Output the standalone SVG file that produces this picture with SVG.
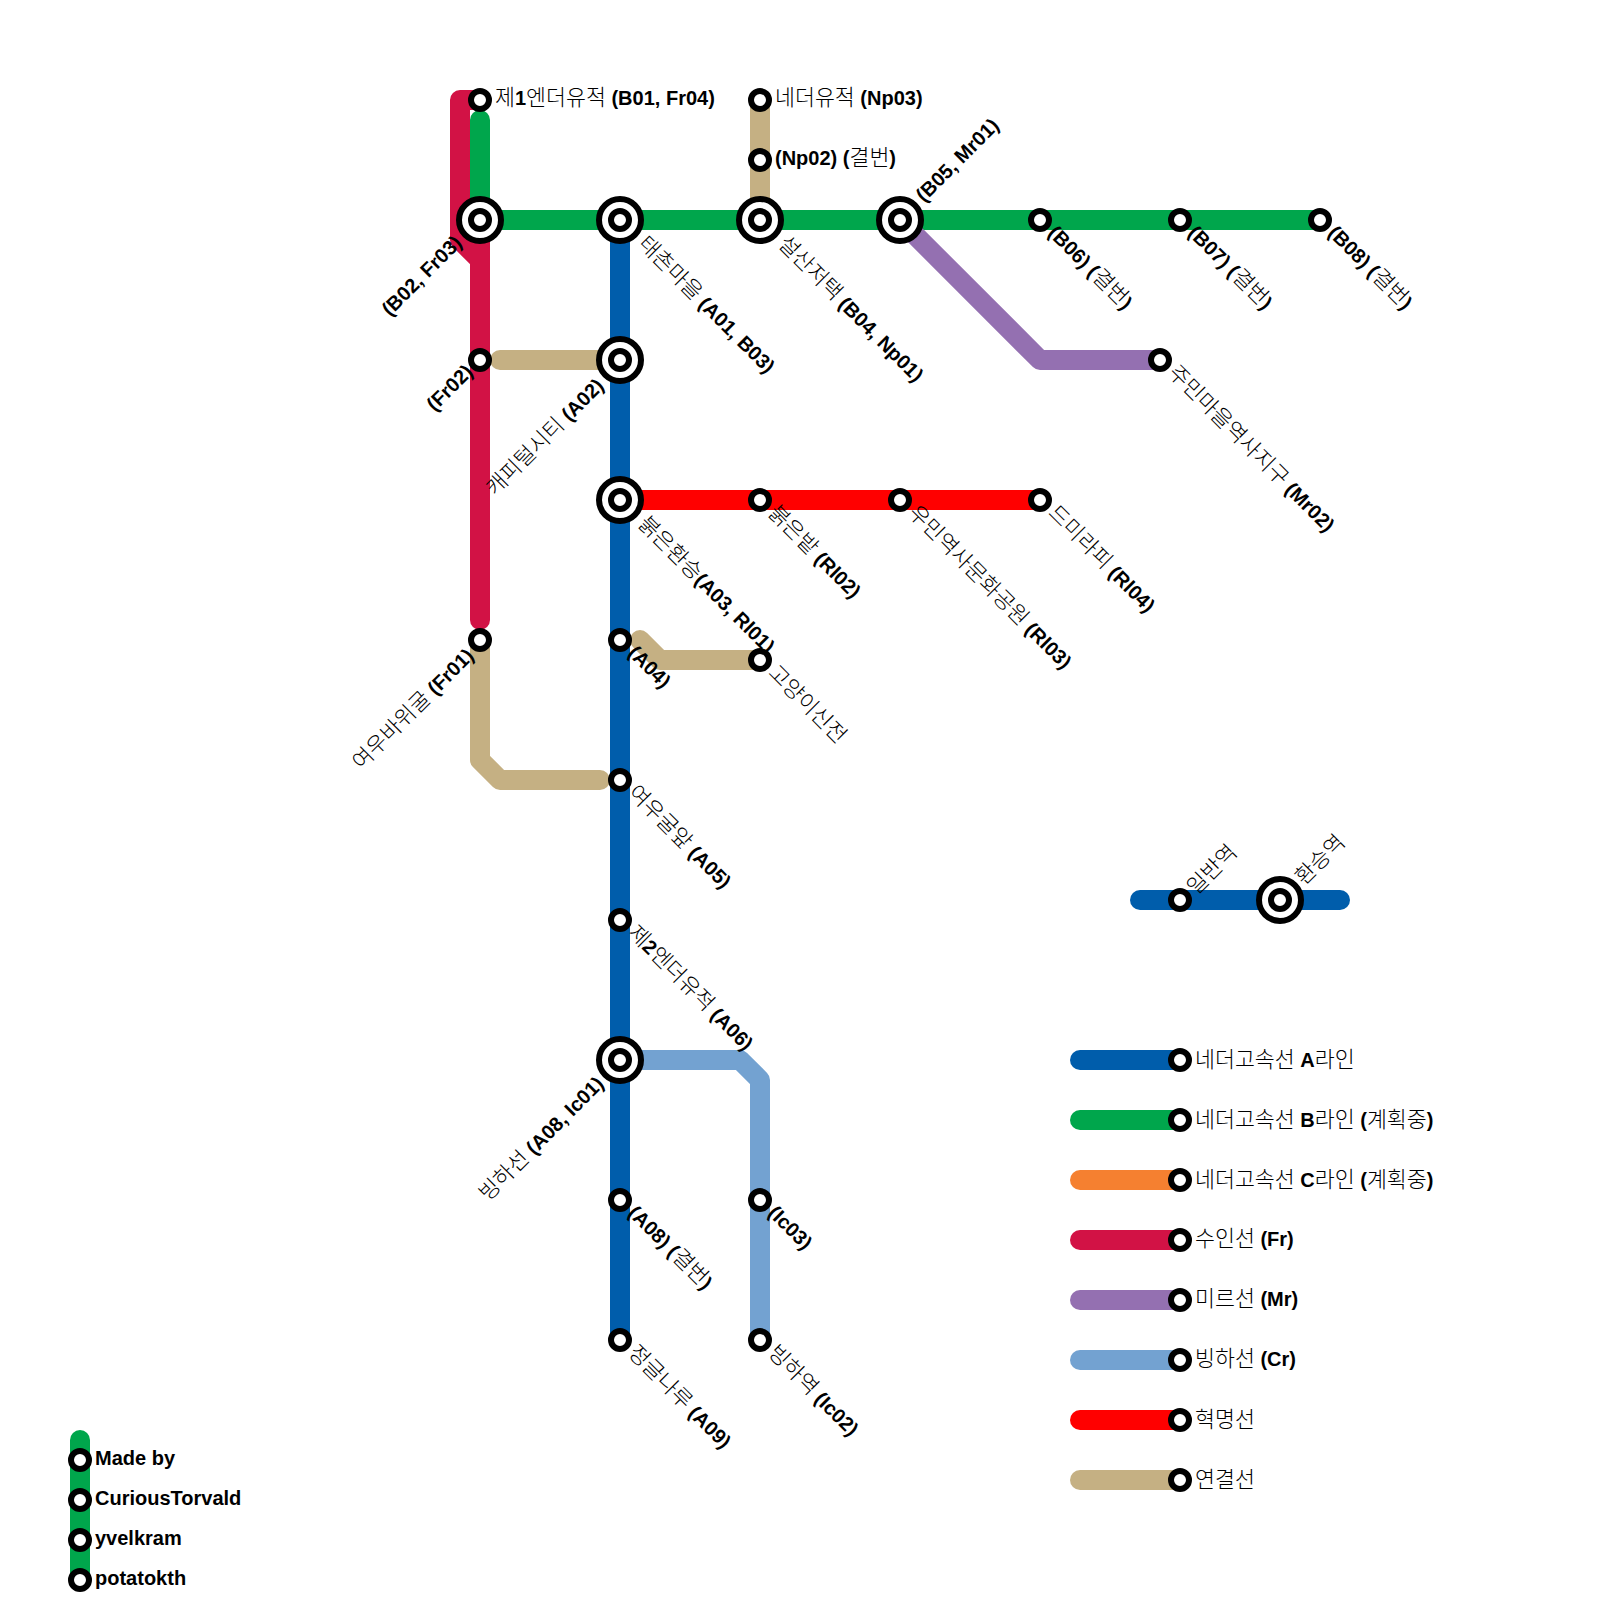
<svg xmlns="http://www.w3.org/2000/svg" width="1600" height="1600" viewBox="0 0 1600 1600">
<style>
.l{fill:none;stroke-width:20;stroke-linecap:round;stroke-linejoin:round}
.a{stroke:#005dab}.b{stroke:#00a64c}.c{stroke:#f58030}.f{stroke:#d21245}.m{stroke:#9470b1}.i{stroke:#73a2d1}.r{stroke:#ff0000}.t{stroke:#c5b083}
.s,.o{fill:#fff;stroke:#000;stroke-width:6}
text{font-family:"Liberation Sans","Noto Sans CJK KR",sans-serif;font-size:20px;font-weight:700;fill:#000}
tspan{font-family:"Noto Sans CJK KR","Liberation Sans",sans-serif;font-weight:300;font-size:21.7px}
.e{text-anchor:end}
</style>
<defs>
<g id="st"><circle class="s" r="9"/></g>
<g id="ic"><circle class="o" r="21"/><circle class="s" r="9"/></g>
</defs>
<g id="connectors">
<path class="l f" d="M480,100H460V240L480,260"/>
<path class="l f" d="M480,220V620"/>
<path class="l b" d="M480,120V220H1320"/>
<path class="l a" d="M620,220V1340"/>
<path class="l t" d="M500,360H620"/>
<path class="l t" d="M760,100V220"/>
<path class="l t" d="M640,640L660,660H760"/>
<path class="l t" d="M480,640V760L500,780H600"/>
<path class="l m" d="M900,220L1040,360H1160"/>
<path class="l r" d="M620,500H1040"/>
<path class="l i" d="M620,1060H740L760,1080V1340"/>
<path class="l a" d="M1140,900H1340"/>
<path class="l a" d="M1080,1060H1180"/>
<path class="l b" d="M1080,1120H1180"/>
<path class="l c" d="M1080,1180H1180"/>
<path class="l f" d="M1080,1240H1180"/>
<path class="l m" d="M1080,1300H1180"/>
<path class="l i" d="M1080,1360H1180"/>
<path class="l r" d="M1080,1420H1180"/>
<path class="l t" d="M1080,1480H1180"/>
<path class="l b" d="M80,1440V1580"/>
</g>
<g id="B01"><use href="#st" x="480" y="100"/><text x="495" y="105"><tspan>제</tspan>1<tspan>엔더유적</tspan> (B01, Fr04)</text></g>
<g id="B02"><use href="#ic" x="480" y="220"/><text class="e" x="463" y="244" transform="rotate(-45 463 244)">(B02, Fr03)</text></g>
<g id="A01"><use href="#ic" x="620" y="220"/><text x="637" y="245" transform="rotate(45 637 245)"><tspan>태촌마을</tspan> (A01, B03)</text></g>
<g id="B04"><use href="#ic" x="760" y="220"/><text x="777" y="245" transform="rotate(45 777 245)"><tspan>설산저택</tspan> (B04, Np01)</text></g>
<g id="B05"><use href="#ic" x="900" y="220"/><text x="924" y="203" transform="rotate(-45 924 203)">(B05, Mr01)</text></g>
<g id="B06"><use href="#st" x="1040" y="220"/><text x="1047" y="234" transform="rotate(45 1047 234)">(B06) (<tspan>결번</tspan>)</text></g>
<g id="B07"><use href="#st" x="1180" y="220"/><text x="1187" y="234" transform="rotate(45 1187 234)">(B07) (<tspan>결번</tspan>)</text></g>
<g id="B08"><use href="#st" x="1320" y="220"/><text x="1327" y="234" transform="rotate(45 1327 234)">(B08) (<tspan>결번</tspan>)</text></g>
<g id="Np03"><use href="#st" x="760" y="100"/><text x="775" y="105"><tspan>네더유적</tspan> (Np03)</text></g>
<g id="Np02"><use href="#st" x="760" y="160"/><text x="775" y="165">(Np02) (<tspan>결번</tspan>)</text></g>
<g id="Fr02"><use href="#st" x="480" y="360"/><text class="e" x="474" y="373" transform="rotate(-45 474 373)">(Fr02)</text></g>
<g id="A02"><use href="#ic" x="620" y="360"/><text class="e" x="605" y="387" transform="rotate(-45 605 387)"><tspan>캐피털시티</tspan> (A02)</text></g>
<g id="Mr02"><use href="#st" x="1160" y="360"/><text x="1167" y="374" transform="rotate(45 1167 374)"><tspan>주민마을역사지구</tspan> (Mr02)</text></g>
<g id="A03"><use href="#ic" x="620" y="500"/><text x="637" y="525" transform="rotate(45 637 525)"><tspan>붉은환승</tspan>(A03, Rl01)</text></g>
<g id="Rl02"><use href="#st" x="760" y="500"/><text x="767" y="514" transform="rotate(45 767 514)"><tspan>붉은밭</tspan> (Rl02)</text></g>
<g id="Rl03"><use href="#st" x="900" y="500"/><text x="907" y="514" transform="rotate(45 907 514)"><tspan>우민역사문화공원</tspan> (Rl03)</text></g>
<g id="Rl04"><use href="#st" x="1040" y="500"/><text x="1047" y="514" transform="rotate(45 1047 514)"><tspan>드미라피</tspan> (Rl04)</text></g>
<g id="Fr01"><use href="#st" x="480" y="640"/><text class="e" x="475" y="657" transform="rotate(-45 475 657)"><tspan>여우바위굴</tspan> (Fr01)</text></g>
<g id="A04"><use href="#st" x="620" y="640"/><text x="627" y="654" transform="rotate(45 627 654)">(A04)</text></g>
<g id="Cat"><use href="#st" x="760" y="660"/><text x="767" y="674" transform="rotate(45 767 674)"><tspan>고양이신전</tspan></text></g>
<g id="A05"><use href="#st" x="620" y="780"/><text x="627" y="794" transform="rotate(45 627 794)"><tspan>여우굴앞</tspan> (A05)</text></g>
<g id="A06"><use href="#st" x="620" y="920"/><text x="627" y="934" transform="rotate(45 627 934)"><tspan>제</tspan>2<tspan>엔더유적</tspan> (A06)</text></g>
<g id="A08"><use href="#ic" x="620" y="1060"/><text class="e" x="605" y="1085" transform="rotate(-45 605 1085)"><tspan>빙하선</tspan> (A08, Ic01)</text></g>
<g id="A08b"><use href="#st" x="620" y="1200"/><text x="627" y="1214" transform="rotate(45 627 1214)">(A08) (<tspan>결번</tspan>)</text></g>
<g id="A09"><use href="#st" x="620" y="1340"/><text x="627" y="1354" transform="rotate(45 627 1354)"><tspan>정글나루</tspan> (A09)</text></g>
<g id="Ic03"><use href="#st" x="760" y="1200"/><text x="767" y="1214" transform="rotate(45 767 1214)">(Ic03)</text></g>
<g id="Ic02"><use href="#st" x="760" y="1340"/><text x="767" y="1354" transform="rotate(45 767 1354)"><tspan>빙하역</tspan> (Ic02)</text></g>
<g id="K1"><use href="#st" x="1180" y="900"/><text x="1196" y="896" transform="rotate(-45 1196 896)"><tspan>일반역</tspan></text></g>
<g id="K2"><use href="#ic" x="1280" y="900"/><text x="1304" y="886" transform="rotate(-45 1304 886)"><tspan>환승역</tspan></text></g>
<g id="L1"><use href="#st" x="1180" y="1060"/><text x="1195" y="1067"><tspan>네더고속선</tspan> A<tspan>라인</tspan></text></g>
<g id="L2"><use href="#st" x="1180" y="1120"/><text x="1195" y="1127"><tspan>네더고속선</tspan> B<tspan>라인</tspan> (<tspan>계획중</tspan>)</text></g>
<g id="L3"><use href="#st" x="1180" y="1180"/><text x="1195" y="1187"><tspan>네더고속선</tspan> C<tspan>라인</tspan> (<tspan>계획중</tspan>)</text></g>
<g id="L4"><use href="#st" x="1180" y="1240"/><text x="1195" y="1246"><tspan>수인선</tspan> (Fr)</text></g>
<g id="L5"><use href="#st" x="1180" y="1300"/><text x="1195" y="1306"><tspan>미르선</tspan> (Mr)</text></g>
<g id="L6"><use href="#st" x="1180" y="1360"/><text x="1195" y="1366"><tspan>빙하선</tspan> (Cr)</text></g>
<g id="L7"><use href="#st" x="1180" y="1420"/><text x="1195" y="1427"><tspan>혁명선</tspan></text></g>
<g id="L8"><use href="#st" x="1180" y="1480"/><text x="1195" y="1487"><tspan>연결선</tspan></text></g>
<g id="C1"><use href="#st" x="80" y="1460"/><text x="95" y="1465">Made by</text></g>
<g id="C2"><use href="#st" x="80" y="1500"/><text x="95" y="1505">CuriousTorvald</text></g>
<g id="C3"><use href="#st" x="80" y="1540"/><text x="95" y="1545">yvelkram</text></g>
<g id="C4"><use href="#st" x="80" y="1580"/><text x="95" y="1585">potatokth</text></g>
</svg>
